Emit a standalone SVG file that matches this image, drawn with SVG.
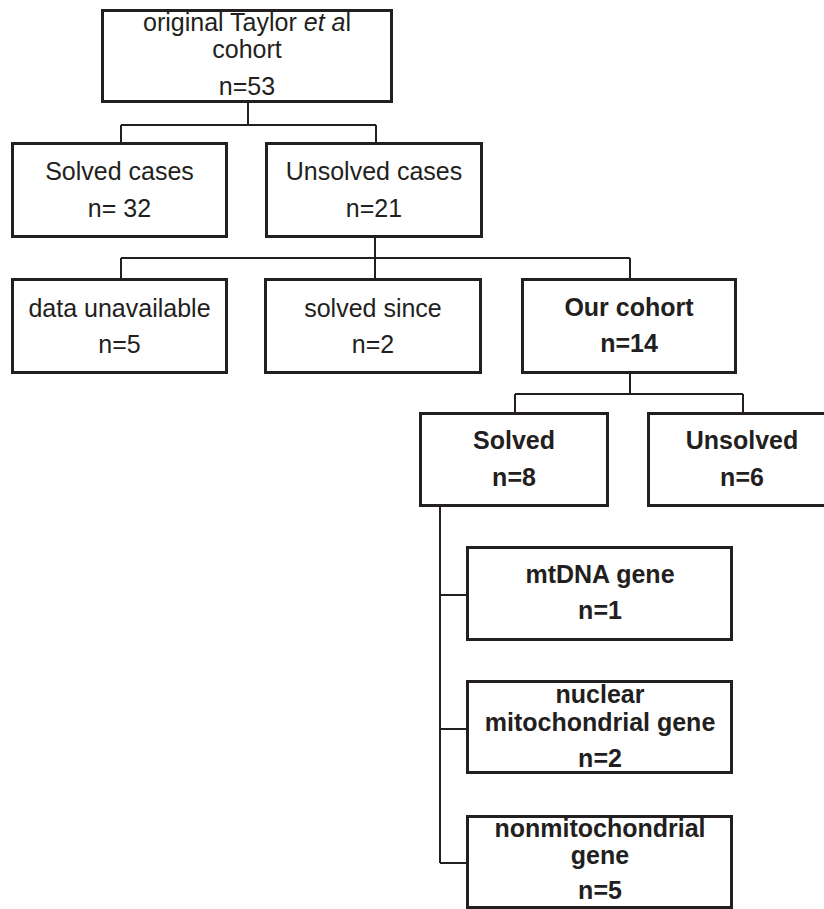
<svg xmlns="http://www.w3.org/2000/svg" width="824" height="909" viewBox="0 0 824 909">
<style>
.box{fill:#fff;stroke:#231f20;stroke-width:3}
.t{font-family:"Liberation Sans",Arial,sans-serif;font-size:25px;fill:#231f20;text-anchor:middle}
.b{font-weight:bold}
.c{fill:none;stroke:#231f20;stroke-width:2}
</style>
<rect width="824" height="909" fill="#fff"/>
<g id="connectors" class="c">
<path d="M248 103V125M121 125H376M121 125V142M376 125V142"/>
<path d="M375 237V278M121 258H630M121 258V278M630 258V278"/>
<path d="M630 374V394M515 394H743M515 394V412M743 394V412"/>
<path d="M440 507V863M440 595H466M440 729H466M440 863H466"/>
</g>
<g id="n-original">
<rect class="box" x="102.5" y="10.5" width="289" height="91"/>
<text class="t" x="247" y="31">original Taylor <tspan font-style="italic">et a</tspan>l</text>
<text class="t" x="247" y="58">cohort</text>
<text class="t" x="247" y="95">n=53</text>
</g>
<g id="n-solved-cases">
<rect class="box" x="12.5" y="143.5" width="214" height="93"/>
<text class="t" x="119.5" y="180">Solved cases</text>
<text class="t" x="119.5" y="217">n= 32</text>
</g>
<g id="n-unsolved-cases">
<rect class="box" x="266.5" y="143.5" width="215" height="93"/>
<text class="t" x="374" y="180">Unsolved cases</text>
<text class="t" x="374" y="217">n=21</text>
</g>
<g id="n-data-unavailable">
<rect class="box" x="12.5" y="279.5" width="214" height="93"/>
<text class="t" x="119.5" y="317">data unavailable</text>
<text class="t" x="119.5" y="353">n=5</text>
</g>
<g id="n-solved-since">
<rect class="box" x="265.5" y="279.5" width="215" height="93"/>
<text class="t" x="373" y="317">solved since</text>
<text class="t" x="373" y="353">n=2</text>
</g>
<g id="n-our-cohort">
<rect class="box" x="522.5" y="279.5" width="213" height="93"/>
<text class="t b" x="629" y="316">Our cohort</text>
<text class="t b" x="629" y="352">n=14</text>
</g>
<g id="n-solved">
<rect class="box" x="420.5" y="413.5" width="187" height="92"/>
<text class="t b" x="514" y="449">Solved</text>
<text class="t b" x="514" y="486">n=8</text>
</g>
<g id="n-unsolved">
<rect class="box" x="648.5" y="413.5" width="187" height="92"/>
<text class="t b" x="742" y="449">Unsolved</text>
<text class="t b" x="742" y="486">n=6</text>
</g>
<g id="n-mtdna">
<rect class="box" x="467.5" y="547.5" width="264" height="92"/>
<text class="t b" x="600" y="583">mtDNA gene</text>
<text class="t b" x="600" y="619">n=1</text>
</g>
<g id="n-nuclear">
<rect class="box" x="467.5" y="681.5" width="264" height="91"/>
<text class="t b" x="600" y="703">nuclear</text>
<text class="t b" x="600" y="731">mitochondrial gene</text>
<text class="t b" x="600" y="767">n=2</text>
</g>
<g id="n-nonmito">
<rect class="box" x="467.5" y="816.5" width="264" height="91"/>
<text class="t b" x="600" y="837">nonmitochondrial</text>
<text class="t b" x="600" y="864">gene</text>
<text class="t b" x="600" y="899">n=5</text>
</g>
</svg>
